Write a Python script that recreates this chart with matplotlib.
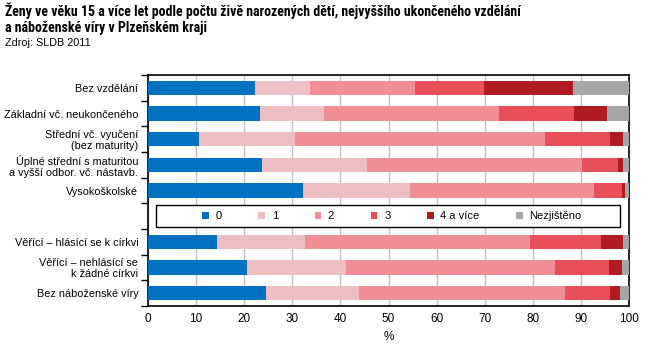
import matplotlib
matplotlib.use("Agg")
import matplotlib.pyplot as plt
import numpy as np
from matplotlib.ticker import FixedLocator
from matplotlib.patches import Rectangle

categories = [
    "Bez vzdělání",
    "Základní vč. neukončeného",
    "Střední vč. vyučení\n(bez maturity)",
    "Úplné střední s maturitou\na vyšší odbor. vč. nástavb.",
    "Vysokoškolské",
    "",
    "Věřící – hlásící se k církvi",
    "Věřící – nehlásící se\nk žádné církvi",
    "Bez náboženské víry",
]
series_names = ["0", "1", "2", "3", "4 a více", "Nezjištěno"]
v0 = [22.2, 23.3, 10.6, 23.7, 32.2, 0, 14.3, 20.6, 24.5]
v1 = [11.5, 13.3, 20.0, 21.8, 22.3, 0, 18.3, 20.6, 19.4]
v2 = [21.8, 36.4, 51.9, 44.7, 38.2, 0, 46.8, 43.4, 42.8]
v3 = [14.4, 15.6, 13.5, 7.5, 5.8, 0, 14.8, 11.2, 9.3]
v4 = [18.4, 6.8, 2.8, 1.1, 0.7, 0, 4.6, 2.7, 2.1]
v5 = [11.7, 4.6, 1.2, 1.2, 0.8, 0, 1.2, 1.5, 1.9]
colors = ["#0070C0", "#EDBFC3", "#F08E95", "#E84F58", "#B01B22", "#A6A6A6"]

plt.rcParams['font.family'] = ['Liberation Sans', 'DejaVu Sans']
narrow = ['Liberation Sans Narrow', 'Arial Narrow', 'Roboto Condensed', 'Liberation Sans', 'DejaVu Sans']

W, H = 665, 351
fig = plt.figure(figsize=(W/100, H/100), dpi=100)
ax = fig.add_axes([148/W, 1-306/H, (629-148)/W, (306-75)/H])

y = np.arange(len(categories))
left = np.zeros(len(categories))
handles = []
for vals, c, name in zip([v0, v1, v2, v3, v4, v5], colors, series_names):
    vals = np.array(vals)
    b = ax.barh(y, vals, left=left, height=0.55, color=c, label=name, zorder=3)
    handles.append(b)
    left += vals

ax.set_xlim(0, 100)
ax.set_ylim(len(categories)-0.5, -0.5)
ax.set_xticks(np.arange(0, 101, 10))
ax.tick_params(axis='x', length=0, labelsize=8.5, pad=5)
ax.xaxis.grid(True, color="#BFBFBF", linewidth=1, zorder=0)
ax.set_axisbelow(True)
ax.set_yticks(y)
ax.set_yticklabels(categories, fontsize=7.8, linespacing=1.1)
ax.tick_params(axis='y', which='major', length=0, pad=7)
ax.yaxis.set_minor_locator(FixedLocator(np.arange(-0.5, len(categories), 1)))
ax.tick_params(axis='y', which='minor', length=5, width=1, color='black')
for s in ax.spines.values():
    s.set_linewidth(1.2)
    s.set_color('black')
ax.set_xlabel("%", fontsize=8.5, labelpad=4)

# legend frame box in the empty slot
x0 = (156-148)/(629-148)
x1 = (620-148)/(629-148)
yb = 1 - (227-75)/(306-75)
yt = 1 - (205-75)/(306-75)
ax.add_patch(Rectangle((x0, yb), x1-x0, yt-yb, transform=ax.transAxes,
                       facecolor='white', edgecolor='black', linewidth=1.0, zorder=5,
                       clip_on=False))
cx = ((392-148)/(629-148))
leg = ax.legend(handles=handles, labels=series_names, ncol=6, loc='center',
                bbox_to_anchor=(cx, (yb+yt)/2), fontsize=8, frameon=False,
                handlelength=0.6, handleheight=0.6,
                columnspacing=3.3, handletextpad=0.6, borderpad=0.2)
leg.set_zorder(6)

fig.text(5/W, 1-10.5/H, "Ženy ve věku 15 a více let podle počtu živě narozených dětí, nejvyššího ukončeného vzdělání",
         fontsize=10, fontweight='bold', va='center', ha='left', family=narrow)
fig.text(5/W, 1-28/H, "a náboženské víry v Plzeňském kraji",
         fontsize=10, fontweight='bold', va='center', ha='left', family=narrow)
fig.text(5/W, 1-43.5/H, "Zdroj: SLDB 2011", fontsize=7.8, va='center', ha='left')

fig.savefig("out.png", dpi=100)
